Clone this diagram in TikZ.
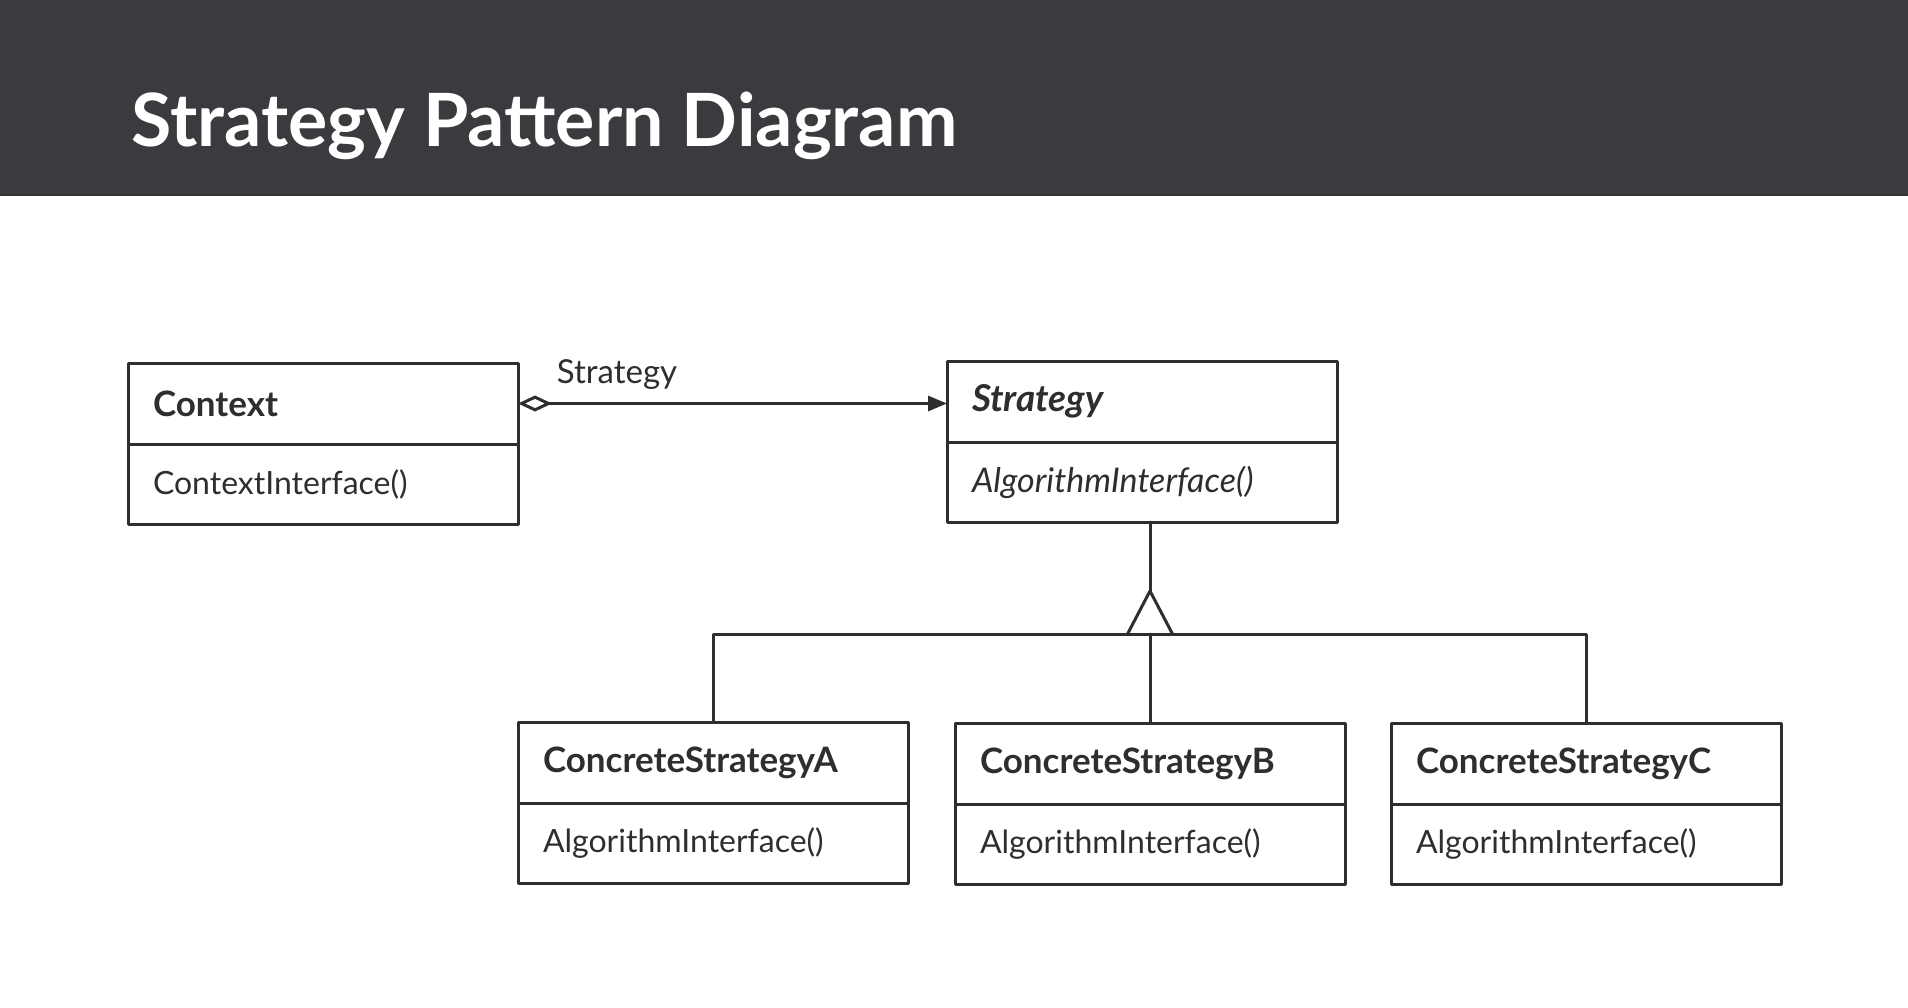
\documentclass[tikz,border=0pt]{standalone}
\usepackage{fontspec}
\setmainfont{Lato}
\usetikzlibrary{arrows.meta,positioning}

\definecolor{bandgray}{HTML}{3A3B3F}
\definecolor{inkgray}{HTML}{2E2E30}

\tikzset{
  clsname/.style={draw=inkgray,line width=3pt,anchor=north west,minimum height=81pt,
    text width=340pt,inner xsep=25pt,inner ysep=0pt,outer sep=0pt,align=left,text=inkgray,
    font=\fontsize{35}{40}\selectfont\bfseries},
  clsmeth/.style={clsname,minimum height=80pt,font=\fontsize{32}{38}\selectfont},
  link/.style={draw=inkgray,line width=3pt},
  aggr/.style={link,{Diamond[open,length=34pt,width=16pt]}-{Triangle[length=19pt,width=15pt]}},
  lbl/.style={text=inkgray,font=\fontsize{33}{38}\selectfont}
}

\begin{document}
\begin{tikzpicture}[line cap=round,line join=round,x=1pt,y=-1pt]
\useasboundingbox (0,0) rectangle (1908,1007);

% header band
\fill[bandgray] (0,0) rectangle (1908,195);
\draw[black!80,line width=2pt] (0,195)-- (1908,195);
\node[anchor=base west,text=white,font=\fontsize{73.5}{84}\selectfont\bfseries] (title) at (128,146) {Strategy Pattern Diagram};

% classes
\node[clsname] (ctx) at (128,363) {Context};
\node[clsmeth,below=0pt of ctx] (ctxm) {ContextInterface()};
\node[clsname,font=\fontsize{37}{42}\selectfont\bfseries\itshape] (str) at (947,361) {Strategy};
\node[clsmeth,below=0pt of str,font=\fontsize{34}{40}\selectfont\itshape] (strm) {AlgorithmInterface()};
\node[clsname] (csa) at (518,722) {ConcreteStrategyA};
\node[clsmeth,below=0pt of csa] (csam) {AlgorithmInterface()};
\node[clsname] (csb) at (955,723) {ConcreteStrategyB};
\node[clsmeth,below=0pt of csb] (csbm) {AlgorithmInterface()};
\node[clsname] (csc) at (1391,723) {ConcreteStrategyC};
\node[clsmeth,below=0pt of csc] (cscm) {AlgorithmInterface()};

% aggregation
\draw[aggr] (ctx.east) -- node[lbl,pos=0,anchor=base west,xshift=34pt,yshift=20pt] (aggrlbl) {Strategy} (ctx.east -| str.west);

% inheritance
\coordinate (bar) at (1150,634);
\coordinate (apex) at (1150,591);
\draw[link] (csa.north) -- (csa.north |- bar) -- (csc.north |- bar) -- (csc.north);
\draw[link] (csb.north) -- (bar);
\draw[link] ([xshift=-22.5pt]bar) -- (apex) -- ([xshift=22.5pt]bar);
\draw[link] (apex) -- (strm.south -| apex);
\end{tikzpicture}
\end{document}
